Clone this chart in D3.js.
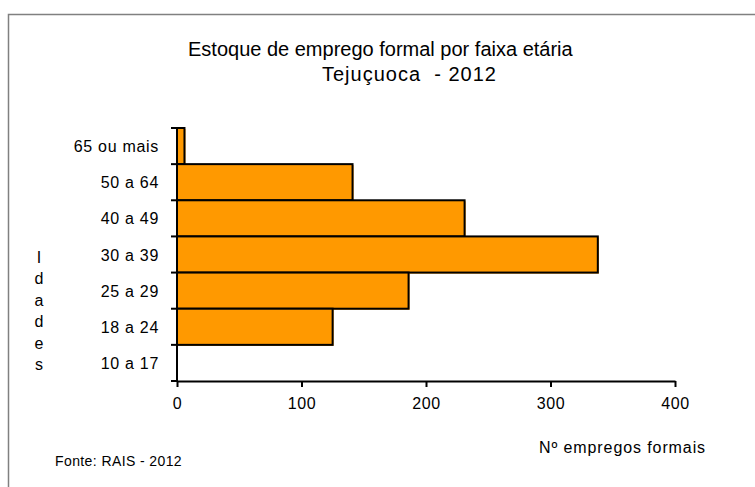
<!DOCTYPE html>
<html>
<head>
<meta charset="utf-8">
<script src="https://cdn.jsdelivr.net/npm/d3@7"></script>
<style>
  body { margin: 0; background: #fff; }
  text { font-family: "Liberation Sans", Arial, sans-serif; fill: #000; }
</style>
</head>
<body>
<div id="chart"></div>
<script>
// Estoque de emprego formal por faixa etária - Tejuçuoca 2012
const faixas = ["65 ou mais", "50 a 64", "40 a 49", "30 a 39", "25 a 29", "18 a 24", "10 a 17"];
const empregos = [6, 141, 231, 338, 186, 125, 0];
const xTicks = [0, 100, 200, 300, 400];
const letrasEixo = ["I", "d", "a", "d", "e", "s"];

const W = 755, H = 487;
const plot = { left: 177, right: 675, top: 128, bottom: 381 };

const svg = d3.select("#chart").append("svg")
  .attr("width", W)
  .attr("height", H);

// frame
svg.append("rect")
  .attr("x", 8.5).attr("y", 14.5)
  .attr("width", 760).attr("height", 500)
  .attr("fill", "none")
  .attr("stroke", "#808080")
  .attr("stroke-width", 1.5);

// title
svg.append("text")
  .attr("x", 188).attr("y", 56)
  .style("font-size", "20px")
  .text("Estoque de emprego formal por faixa etária");

svg.append("text")
  .attr("x", 322).attr("y", 81)
  .attr("xml:space", "preserve")
  .style("white-space", "pre")
  .style("font-size", "20px")
  .style("letter-spacing", "1px")
  .text("Tejuçuoca  - 2012");

const x = d3.scaleLinear().domain([0, 400]).range([plot.left, plot.right]);
const y = d3.scaleBand().domain(faixas).range([plot.top, plot.bottom]).padding(0);

const data = faixas.map((f, i) => ({ faixa: f, valor: empregos[i] }));
const bars = data.filter(d => d.valor > 0);

// orange offset under each bar
svg.selectAll("rect.sombra")
  .data(bars)
  .enter().append("rect")
  .attr("class", "sombra")
  .attr("x", x(0) + 1)
  .attr("y", d => y(d.faixa) + 1)
  .attr("width", d => x(d.valor) - x(0))
  .attr("height", y.bandwidth())
  .attr("fill", "#FF9900");

svg.selectAll("rect.bar")
  .data(bars)
  .enter().append("rect")
  .attr("class", "bar")
  .attr("x", x(0))
  .attr("y", d => y(d.faixa))
  .attr("width", d => x(d.valor) - x(0))
  .attr("height", y.bandwidth())
  .attr("fill", "#FF9900")
  .attr("stroke", "#000")
  .attr("stroke-width", 2);

// x axis
const xAxis = svg.append("g")
  .attr("transform", `translate(0,${plot.bottom})`)
  .call(d3.axisBottom(x).tickValues(xTicks).tickSize(6).tickPadding(11).tickSizeOuter(0));
xAxis.select(".domain").attr("stroke", "#000").attr("stroke-width", 2);
xAxis.selectAll(".tick line").attr("stroke", "#000").attr("stroke-width", 2);
xAxis.selectAll(".tick text")
  .style("font-size", "16px")
  .style("letter-spacing", "0.6px")
  .style("font-family", "'Liberation Sans', Arial, sans-serif");

// y axis: ticks between categories, labels centred in bands
const yAxis = svg.append("g").attr("transform", `translate(${plot.left},0)`);
yAxis.append("line")
  .attr("x1", 0).attr("x2", 0)
  .attr("y1", plot.top).attr("y2", plot.bottom + 1)
  .attr("stroke", "#000").attr("stroke-width", 2);

const bordas = faixas.map(f => y(f)).concat([plot.bottom]);
yAxis.selectAll("line.tk")
  .data(bordas)
  .enter().append("line")
  .attr("class", "tk")
  .attr("x1", -6).attr("x2", 0)
  .attr("y1", d => d).attr("y2", d => d)
  .attr("stroke", "#000").attr("stroke-width", 2);

svg.selectAll("text.cat")
  .data(faixas)
  .enter().append("text")
  .attr("class", "cat")
  .attr("x", 159)
  .attr("y", d => y(d) + y.bandwidth() / 2 + 6)
  .attr("text-anchor", "end")
  .style("font-size", "16px")
  .style("letter-spacing", "0.7px")
  .text(d => d);

// vertical axis title, one letter per line
svg.selectAll("text.letra")
  .data(letrasEixo)
  .enter().append("text")
  .attr("class", "letra")
  .attr("x", 39)
  .attr("y", (d, i) => 263 + i * 21.4)
  .attr("text-anchor", "middle")
  .style("font-size", "16px")
  .text(d => d);

svg.append("text")
  .attr("x", 539).attr("y", 453)
  .style("font-size", "16px")
  .style("letter-spacing", "0.9px")
  .text("Nº empregos formais");

svg.append("text")
  .attr("x", 55).attr("y", 466)
  .style("font-size", "14px")
  .style("letter-spacing", "0.4px")
  .text("Fonte: RAIS - 2012");
</script>
</body>
</html>
